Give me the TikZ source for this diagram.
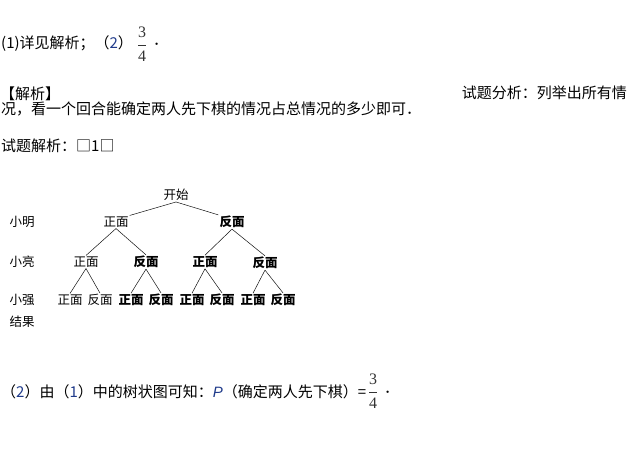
\documentclass[tikz,border=0pt]{standalone}
\usepackage{amsmath}
\usepackage{xcolor}
\usepackage{fontspec}
\newfontfamily\cjk{Noto Sans CJK SC}
\newfontfamily\lsans{Liberation Sans}
\newfontfamily\lserif{Liberation Serif}
\usetikzlibrary{positioning}
\definecolor{cNum}{HTML}{1F3A8A}
\definecolor{cInk}{HTML}{111111}
\definecolor{cFrac}{HTML}{333333}
\newcommand{\numc}[1]{{\color{cNum}#1}}
\newcommand{\frc}[2]{$\dfrac{\text{\lserif #1}}{\text{\lserif #2}}$}

\begin{document}
\begin{tikzpicture}[x=1pt,y=-1pt,
  txt/.style={inner sep=0pt,anchor=west,font=\fontsize{15}{17}\selectfont\cjk},
  frac/.style={inner sep=0pt,text=cFrac,font=\fontsize{16}{18}\selectfont},
  leaf/.style={inner sep=1pt,font=\fontsize{12.5}{14}\selectfont\cjk},
  hit/.style={inner sep=1pt,font=\fontsize{12.5}{14}\selectfont\cjk\bfseries},
  edge/.style={draw=cInk,line width=0.5pt}]
  \useasboundingbox (0,0) rectangle (630,473);
  % answer line
  \node[txt] (ans) at (1,44) {(1)详见解析；（\numc{2}）};
  \node[frac] (ansfrac) at (142,44) {\frc{3}{4}};
  \node[txt] (ansdot) at (153,44) {．};
  % analysis text
  \node[txt] (head) at (0,94) {【解析】};
  \node[txt,anchor=east] (idea) at (627,93) {试题分析：列举出所有情};
  \node[txt] (idea2) at (1,109) {况，看一个回合能确定两人先下棋的情况占总情况的多少即可．};
  \node[txt] (sol) at (1,146) {试题解析：□1□};
  % row labels
  \node[leaf] (rowm) at (22,222) {小明};
  \node[leaf] (rowl) at (22,262) {小亮};
  \node[leaf] (rowq) at (22,300) {小强};
  \node[leaf] (rowr) at (22,322) {结果};
  % tree
  \node[leaf] (start) at (176,195) {开始};
  \node[leaf] (m1) at (116,222) {正面};
  \node[hit] (m2) at (232,222) {反面};
  \node[leaf] (l1) at (86,262) {正面};
  \node[hit] (l2) at (146,262) {反面};
  \node[hit] (l3) at (205,262) {正面};
  \node[hit] (l4) at (265,263) {反面};
  \node[leaf] (q1) at (70,300) {正面};
  \node[leaf] (q2) at (100,300) {反面};
  \node[hit] (q3) at (131,300) {正面};
  \node[hit] (q4) at (161,300) {反面};
  \node[hit] (q5) at (192,300) {正面};
  \node[hit] (q6) at (222,300) {反面};
  \node[hit] (q7) at (253,300) {正面};
  \node[hit] (q8) at (283,300) {反面};
  \draw[edge] (start.south) -- (m1.north east);
  \draw[edge] (start.south) -- (m2.north west);
  \draw[edge] (m1.south) -- (l1.north);
  \draw[edge] (m1.south) -- (l2.north);
  \draw[edge] (m2.south) -- (l3.north);
  \draw[edge] (m2.south) -- (l4.north);
  \draw[edge] (l1.south) -- (q1.north);
  \draw[edge] (l1.south) -- (q2.north);
  \draw[edge] (l2.south) -- (q3.north);
  \draw[edge] (l2.south) -- (q4.north);
  \draw[edge] (l3.south) -- (q5.north);
  \draw[edge] (l3.south) -- (q6.north);
  \draw[edge] (l4.south) -- (q7.north);
  \draw[edge] (l4.south) -- (q8.north);
  % part (2)
  \node[txt] (res) at (1,392) {（\numc{2}）由（\numc{1}）中的树状图可知：{\lsans\itshape\numc{P}}（确定两人先下棋）=};
  \node[frac] (resfrac) at (373,391) {\frc{3}{4}};
  \node[txt] (resdot) at (384,392) {．};
\end{tikzpicture}
\end{document}
